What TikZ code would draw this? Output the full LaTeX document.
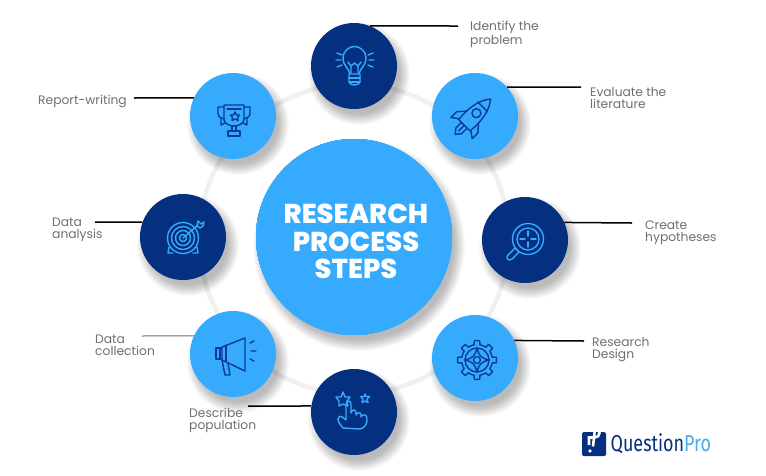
\documentclass[tikz,border=0pt]{standalone}
\usepackage{fontspec}
\setmainfont{Poppins}
\newfontfamily\titlefont{Poppins}[UprightFont=* ExtraBold]
\newfontfamily\logofont{Fira Sans}
\usepackage{xcolor}
\definecolor{navycirc}{HTML}{04307F}
\definecolor{skycirc}{HTML}{36ABFD}
\definecolor{iconnavy}{HTML}{0B3A9C}
\definecolor{labelgray}{HTML}{707070}
\definecolor{ringgray}{HTML}{F0F0F0}
\definecolor{logosky}{HTML}{45AEE8}
\tikzset{
  stepnavy/.style={circle,fill=navycirc,minimum size=86pt,inner sep=0pt},
  stepsky/.style={circle,fill=skycirc,minimum size=86pt,inner sep=0pt},
  lead/.style={line width=1.5pt,black},
  steplabel/.style={anchor=west,align=left,inner sep=0pt,text=labelgray,font=\fontsize{12.3}{12.2}\selectfont},
  iconsky/.style={draw=skycirc,line width=1.4pt,line cap=round,line join=round},
  icondark/.style={draw=iconnavy,line width=1.4pt,line cap=round,line join=round},
}
\newcommand{\softshadow}[3]{%
  \foreach \k in {0,1,...,11}
    \fill [black,opacity=0.022] (#1+5,#2+8) circle ({#3+8-\k});
}
\begin{document}
\begin{tikzpicture}[x=1pt,y=-1pt]
\useasboundingbox (0,0) rectangle (766,475);
\fill [white] (0,0) rectangle (766,475);
% ring behind the steps
\draw [ringgray,line width=4.500pt] (354,239) circle (155);
% shadows
\softshadow{354}{237}{98}
\foreach \px/\py in {354/66,475/116,525/240,475/358,354/412,233/354,183/237,233/116}
  \softshadow{\px}{\py}{43}
% circles
\node [circle,fill=skycirc,minimum size=196pt,inner sep=0pt] (title) at (354,237) {};
\node [align=center,inner sep=0pt,text=white,font=\titlefont\fontsize{27.3}{27.3}\selectfont] (titletext) at (356,241.500) {RESEARCH\\PROCESS\\STEPS};
\node [stepnavy] (bulb) at (354,66) {};
\node [stepsky] (rocket) at (475,116) {};
\node [stepnavy] (lens) at (525,240) {};
\node [stepsky] (gear) at (475,358) {};
\node [stepnavy] (hand) at (354,412) {};
\node [stepsky] (horn) at (233,354) {};
\node [stepnavy] (target) at (183,237) {};
\node [stepsky] (trophy) at (233,116) {};
% leader ends
\coordinate (bulbend) at (458,26);
\coordinate (rocketend) at (581,87);
\coordinate (lensend) at (632,223);
\coordinate (gearend) at (584,341);
\coordinate (handend) at (248,406);
\coordinate (hornend) at (142,336);
\coordinate (targetend) at (95,222);
\coordinate (trophyend) at (134,98);
\draw [lead] (bulb.68) -- (bulbend);
\draw [lead] (rocket.42) -- (rocketend);
\draw [lead] (lens.24) -- (lensend);
\draw [lead] (gear.24) -- (gearend);
\draw [lead] (hand.172) -- (handend);
\draw [lead,line width=1pt,labelgray] (horn.155) -- (hornend);
\draw [lead] (target.160) -- (targetend);
\draw [lead] (trophy.155) -- (trophyend);
% labels
\node [steplabel] (bulbtext) at (470,34.500) {Identify the\\problem};
\node [steplabel] (rockettext) at (590,98) {Evaluate the\\literature};
\node [steplabel] (lenstext) at (645,232.500) {Create\\hypotheses};
\node [steplabel] (geartext) at (592,349.500) {Research\\Design};
\node [steplabel] (handtext) at (189,420.500) {Describe\\population};
\node [steplabel] (horntext) at (95,345) {Data\\collection};
\node [steplabel] (targettext) at (52,230) {Data\\analysis};
\node [steplabel] (trophytext) at (38,101.500) {Report-writing};
% bulb
\begin{scope}[shift={(bulb.center)},iconsky]
\draw (-4,8) .. controls (-5,2) and (-11,0) .. (-11,-8) arc (180:360:11.5) .. controls (12,0) and (6,2) .. (5,8) -- cycle;
\draw (-3,7) -- (-3,0) -- (-6,-4) (4,7) -- (4,0) -- (7,-4) (-3,0) -- (0.5,-3) -- (4,0);
\draw (-5,8) -- (-5,16) .. controls (-4,20) and (5,20) .. (6,16) -- (6,8);
\draw (-5,12) -- (6,12) (-5,16) -- (6,16);
\draw (-17,-13) -- (-12,-11) (-18,-6) -- (-13,-6) (-17,1) -- (-12,-1);
\draw (19,-13) -- (14,-11) (20,-6) -- (15,-6) (19,1) -- (14,-1);
\end{scope}
% rocket
\begin{scope}[shift={(rocket.center)},rotate=-45,shift={(-1,2)},icondark]
\draw (-8,12) .. controls (-10,-6) and (-6,-18) .. (0,-25) .. controls (6,-18) and (10,-6) .. (8,12) -- cycle;
\draw (0,-5) circle (4.5);
\draw (-7,-14) -- (7,-14);
\draw (-8,0) -- (-15,8) -- (-15,16) -- (-8,11);
\draw (8,0) -- (15,8) -- (15,16) -- (8,11);
\draw (-4,12) -- (-4,20) -- (0,25) -- (4,20) -- (4,12);
\draw (0,12) -- (0,20);
\end{scope}
% magnifier
\begin{scope}[shift={(lens.center)},iconsky]
\draw (3,-1) circle (15.5) (3,-1) circle (11);
\draw (3,-9) -- (3,-4) (3,2) -- (3,7) (-5,-1) -- (0,-1) (6,-1) -- (11,-1);
\draw (-8,10) -- (-10,8) -- (-17,15) .. controls (-20,18) and (-16,22) .. (-13,19) -- (-6,12) -- cycle;
\end{scope}
% gear
\begin{scope}[shift={(gear.center)},shift={(2,2)},icondark]
\foreach \a in {0,45,...,315} {
  \draw (\a-11:15.5) -- (\a-8:19.5) arc (\a-8:\a+8:19.5) -- (\a+11:15.5) arc (\a+11:\a+34:15.5);
}
\draw (0,0) circle (3.5) (0,0) circle (12);
\draw (0,-12) .. controls (2,-4) and (4,-2) .. (12,0) .. controls (4,2) and (2,4) .. (0,12) .. controls (-2,4) and (-4,2) .. (-12,0) .. controls (-4,-2) and (-2,-4) .. (0,-12);
\end{scope}
% hand
\begin{scope}[shift={(hand.center)},iconsky]
\draw (-11,16) .. controls (-14,12) and (-18,8) .. (-15,5) .. controls (-13,3) and (-10,6) .. (-8,8) -- (-8,-8) .. controls (-8,-12) and (-3,-12) .. (-3,-8) -- (-3,1) .. controls (-2,-3) and (2,-3) .. (2,1) -- (2,3) .. controls (3,0) and (7,0) .. (7,3) -- (7,5) .. controls (8,2) and (13,2) .. (13,6) -- (13,8) .. controls (13,13) and (10,16) .. (6,17) -- cycle;
\draw (-11,-20) -- (-9,-15) -- (-4,-15) -- (-7,-11) -- (-6,-6) -- (-11,-8) -- (-15,-6) -- (-15,-11) -- (-18,-15) -- (-13,-15) -- cycle;
\draw (11,-18) -- (12,-15.5) -- (15.5,-15.5) -- (13,-13) -- (14,-9.5) -- (11,-11) -- (8,-9.5) -- (9,-13) -- (6.5,-15.5) -- (10,-15.5) -- cycle;
\end{scope}
% megaphone
\begin{scope}[shift={(horn.center)},icondark]
\draw (-11,-7) -- (12,-16) -- (12,17) -- (-11,6) -- cycle;
\draw (-11,-6) -- (-17,-6) -- (-17,5) -- (-11,5);
\draw (-13,-6) -- (-13,5) (-7,-8) -- (-7,7);
\draw (-11,6) -- (-8,21) -- (-3,21) -- (-5,9);
\draw (17,-11) -- (21,-13) (18,-3) -- (23,-3) (17,5) -- (21,7);
\end{scope}
% target
\begin{scope}[shift={(target.center)},iconsky]
\draw (0,1) circle (15.5) (0,1) circle (11.5) (0,1) circle (7.5) (0,1) circle (3.5);
\draw (0,1) -- (15,-12);
\draw (14,-11) -- (15,-16) -- (18,-13) -- (21,-15) -- (20,-11) -- (17,-9) -- cycle;
\draw (-14,10) -- (-15,16) -- (-10,16) (14,10) -- (15,16) -- (10,16);
\end{scope}
% trophy
\begin{scope}[shift={(trophy.center)},icondark]
\draw (-9,-11) -- (11,-11) -- (11,4) .. controls (10,8) and (5,10) .. (1,10) .. controls (-3,10) and (-8,8) .. (-9,4) -- cycle;
\draw (-6,-7) -- (8,-7);
\draw (-9,-9) -- (-15,-9) -- (-15,-3) .. controls (-15,1) and (-12,2) .. (-9,3);
\draw (11,-9) -- (17,-9) -- (17,-3) .. controls (17,1) and (14,2) .. (11,3);
\draw (-12,2) -- (-12,9) -- (-8,7) (14,2) -- (14,9) -- (10,7);
\draw (2,-4) -- (3.5,-1) -- (6.5,-1) -- (4.5,1.5) -- (5,4.5) -- (2,3) -- (-1,4.5) -- (-0.5,1.5) -- (-2.500,-1) -- (0.5,-1) -- cycle;
\draw (-1,10) -- (-1,15) (3,10) -- (3,15) (-3,15) -- (5,15);
\draw (-5,15) rectangle (7,20);
\end{scope}
% logo
\node [fill=navycirc,rounded corners=1.5pt,minimum size=24pt,inner sep=0pt] (logomark) at (594,444) {};
\draw [white,line width=2.6pt] ([shift={(-5,1)}]logomark.center) -- ([shift={(-5,-6.500)}]logomark.center) -- ([shift={(1,-6.500)}]logomark.center) arc (90:-90:4.5) -- ([shift={(-1,2.500)}]logomark.center);
\fill [white] ([shift={(-4,7)}]logomark.center) circle (1.8);
\node [anchor=west,inner sep=0pt,xscale=0.78,transform shape,font=\logofont\fontsize{23}{24}\selectfont] (logotext) at (610.500,444) {\textcolor{navycirc}{Question}\textcolor{logosky}{Pro}};
\end{tikzpicture}
\end{document}
